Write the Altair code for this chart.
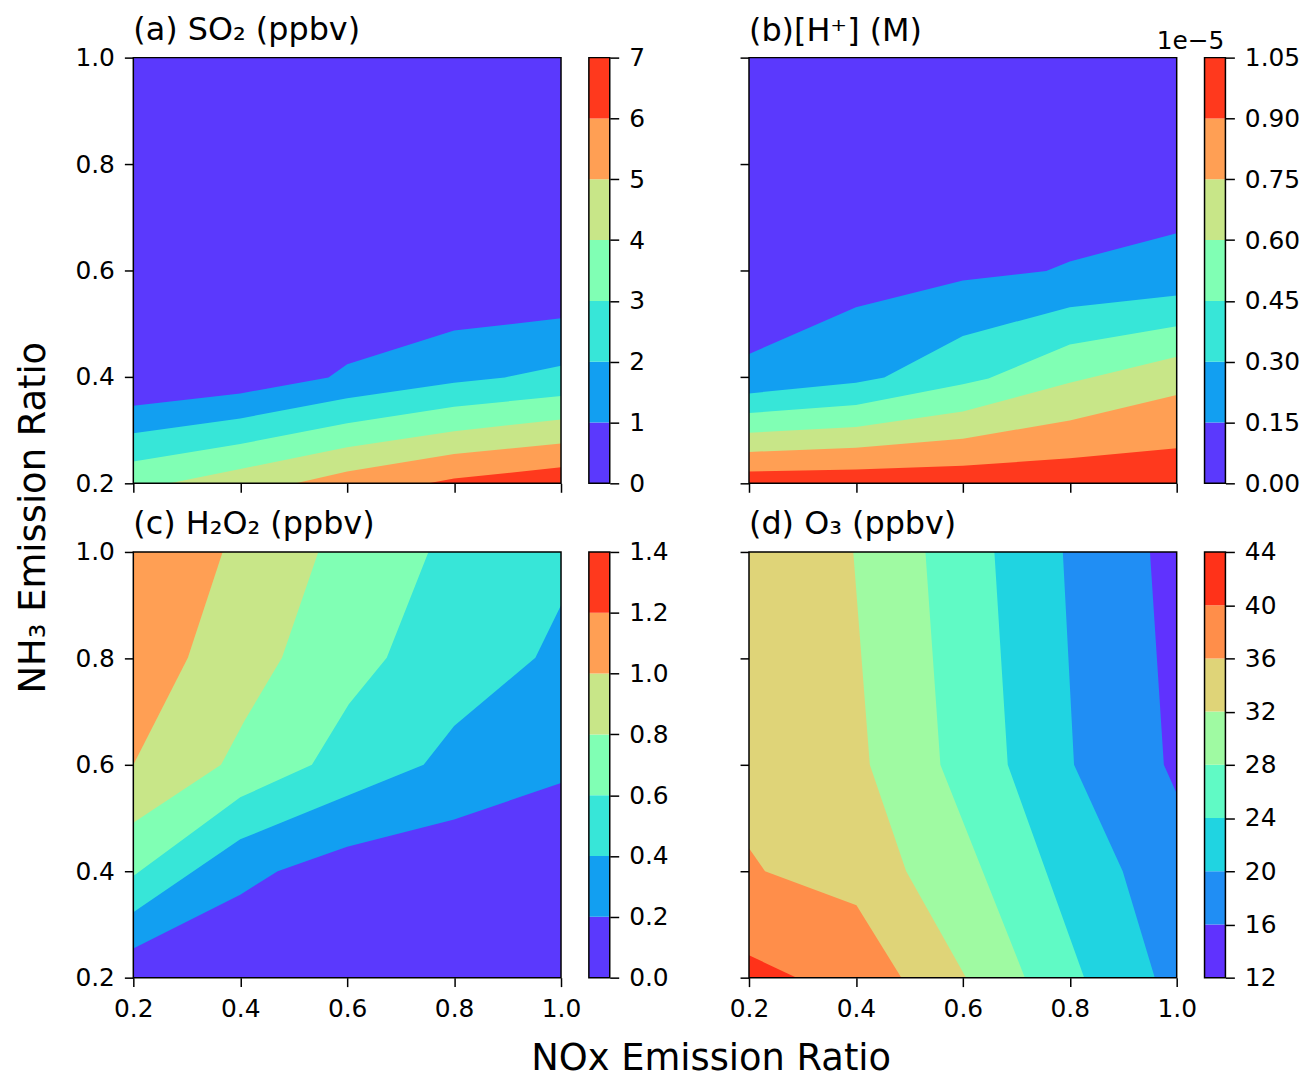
import math
import pandas as pd
import altair as alt

FONT = "DejaVu Sans"

# ---------------- data ----------------
TICKS = [0.2, 0.4, 0.6, 0.8, 1.0]

# (a) SO2 (ppbv): contour levels and boundary lines (value above level lies below the line)
A_LEVELS = [0, 1, 2, 3, 4, 5, 6, 7]
A_L1 = [(0.2, 0.346), (0.4, 0.369), (0.565, 0.399), (0.6, 0.424), (0.8, 0.487), (1.0, 0.510)]
A_L2 = [(0.2, 0.294), (0.4, 0.322), (0.6, 0.360), (0.8, 0.389), (0.895, 0.399), (1.0, 0.421)]
A_L3 = [(0.2, 0.241), (0.4, 0.274), (0.6, 0.313), (0.8, 0.344), (1.0, 0.364)]
A_L4 = [(0.268, 0.2), (0.4, 0.227), (0.6, 0.268), (0.8, 0.298), (1.0, 0.320)]
A_L5 = [(0.504, 0.2), (0.6, 0.222), (0.8, 0.255), (1.0, 0.275)]
A_L6 = [(0.752, 0.2), (0.8, 0.209), (1.0, 0.230)]

# (b) [H+] (M, x1e-5): value above level lies below the line
B_LEVELS = [0.00, 0.15, 0.30, 0.45, 0.60, 0.75, 0.90, 1.05]
B_L1 = [(0.2, 0.443), (0.4, 0.531), (0.6, 0.581), (0.756, 0.599), (0.8, 0.617), (1.0, 0.670)]
B_L2 = [(0.2, 0.369), (0.4, 0.389), (0.453, 0.399), (0.6, 0.477), (0.8, 0.531), (1.0, 0.553)]
B_L3 = [(0.2, 0.332), (0.4, 0.347), (0.6, 0.386), (0.648, 0.397), (0.8, 0.461), (1.0, 0.495)]
B_L4 = [(0.2, 0.295), (0.4, 0.306), (0.6, 0.335), (0.8, 0.389), (1.0, 0.438)]
B_L5 = [(0.2, 0.259), (0.4, 0.267), (0.6, 0.284), (0.8, 0.318), (1.0, 0.366)]
B_L6 = [(0.2, 0.222), (0.4, 0.226), (0.6, 0.233), (0.8, 0.247), (1.0, 0.266)]
B_OFFSET_TEXT = "1e−5"

# (c) H2O2 (ppbv): value above level lies above the line
C_LEVELS = [0.0, 0.2, 0.4, 0.6, 0.8, 1.0, 1.2, 1.4]
C_L1 = [(0.2, 0.255), (0.4, 0.356), (0.470, 0.400), (0.6, 0.446), (0.8, 0.497), (1.0, 0.566)]
C_L2 = [(0.2, 0.323), (0.4, 0.460), (0.6, 0.542), (0.743, 0.600), (0.8, 0.673), (0.952, 0.801), (1.0, 0.900)]
C_L3 = [(0.2, 0.391), (0.4, 0.539), (0.534, 0.600), (0.603, 0.714), (0.674, 0.801), (0.752, 1.0)]
C_L4 = [(0.2, 0.491), (0.364, 0.600), (0.408, 0.683), (0.478, 0.801), (0.546, 1.0)]
C_L5 = [(0.2, 0.600), (0.302, 0.801), (0.367, 1.0)]

# (d) O3 (ppbv): value above level lies left of the line
D_LEVELS = [12, 16, 20, 24, 28, 32, 36, 40, 44]
D_L1 = [(0.950, 1.0), (0.976, 0.6), (1.0, 0.546), (1.0, 0.2)]
D_L2 = [(0.787, 1.0), (0.808, 0.6), (0.899, 0.4), (0.959, 0.2)]
D_L3 = [(0.659, 1.0), (0.684, 0.6), (0.827, 0.2)]
D_L4 = [(0.530, 1.0), (0.558, 0.6), (0.716, 0.2)]
D_L5 = [(0.395, 1.0), (0.426, 0.6), (0.494, 0.4), (0.606, 0.2)]
D_L6 = [(0.2, 0.443), (0.230, 0.4), (0.401, 0.336), (0.485, 0.2)]
D_L7 = [(0.2, 0.242), (0.289, 0.2)]

# ---------------- styling ----------------
W, H = 430, 428
CB_X0, CB_X1 = W + 28, W + 49


def rainbow_hex(t):
    r = min(1.0, abs(2 * t - 0.5))
    g = min(1.0, max(0.0, math.sin(math.pi * t)))
    b = min(1.0, max(0.0, math.cos(math.pi * t / 2)))
    return "#%02x%02x%02x" % tuple(int(round(v * 255)) for v in (r, g, b))


def band_colors(n):
    return [rainbow_hex((i + 0.5) / n) for i in range(n)]


def make_panel(title, levels, bounds, kind, xlab, ylab, cb_fmt, offset_text=None, title_offset=-1):
    colors = band_colors(len(levels) - 1)
    xs = alt.Scale(domain=[0.2, 1.0], nice=False, zero=False)
    ys = alt.Scale(domain=[0.2, 1.0], nice=False, zero=False)
    box = pd.DataFrame({"x": [0.2], "xe": [1.0], "y": [0.2], "ye": [1.0]})
    base = alt.Chart(box).mark_rect(color=colors[0]).encode(
        x=alt.X("x:Q", scale=xs, axis=alt.Axis(values=TICKS, format=".1f", labels=xlab, title=None,
                                               orient="bottom")),
        x2="xe:Q",
        y=alt.Y("y:Q", scale=ys, axis=alt.Axis(values=TICKS, format=".1f", labels=ylab, title=None,
                                               orient="left")),
        y2="ye:Q",
    )
    layers = [base]
    for k, pts in enumerate(bounds, start=1):
        df = pd.DataFrame(pts, columns=["x", "y"])
        if kind == "left":
            m = alt.Chart(df).mark_area(color=colors[k], orient="horizontal").encode(
                y=alt.Y("y:Q", scale=ys, axis=None),
                x=alt.X("x:Q", scale=xs, axis=None, stack=None),
                x2=alt.datum(0.2),
            )
        else:
            m = alt.Chart(df).mark_area(color=colors[k], orient="vertical").encode(
                x=alt.X("x:Q", scale=xs, axis=None),
                y=alt.Y("y:Q", scale=ys, axis=None, stack=None),
                y2=alt.datum(0.2 if kind == "below" else 1.0),
            )
        layers.append(m)
    frame = alt.Chart(box).mark_rect(filled=False, stroke="black", strokeWidth=1.5).encode(
        x=alt.X("x:Q", scale=xs, axis=None), x2="xe:Q",
        y=alt.Y("y:Q", scale=ys, axis=None), y2="ye:Q",
    )
    layers.append(frame)

    cs = alt.Scale(domain=[levels[0], levels[-1]], nice=False, zero=False)
    cb_df = pd.DataFrame({"lo": levels[:-1], "hi": levels[1:], "c": colors})
    cbar = alt.Chart(cb_df).mark_rect().encode(
        x=alt.value(CB_X0), x2=alt.value(CB_X1),
        y=alt.Y("lo:Q", scale=cs, axis=alt.Axis(orient="right", offset=CB_X1 - W, values=levels,
                                                format=cb_fmt, title=None)),
        y2="hi:Q",
        color=alt.Color("c:N", scale=None),
    )
    outline = alt.Chart(pd.DataFrame({"lo": [levels[0]], "hi": [levels[-1]]})).mark_rect(
        filled=False, stroke="black", strokeWidth=1.5
    ).encode(
        x=alt.value(CB_X0), x2=alt.value(CB_X1),
        y=alt.Y("lo:Q", scale=cs, axis=None), y2="hi:Q",
    )
    layers += [cbar, outline]
    if offset_text:
        txt = alt.Chart(pd.DataFrame({"t": [offset_text], "v": [levels[-1]]})).mark_text(
            align="right", baseline="alphabetic", font=FONT, fontSize=25, color="black", dy=-9
        ).encode(
            x=alt.value(CB_X1 - 1),
            y=alt.Y("v:Q", scale=cs, axis=None),
            text="t:N",
        )
        layers.append(txt)
    return alt.layer(*layers).resolve_scale(y="independent").resolve_axis(
        x="independent", y="independent"
    ).properties(
        width=W, height=H,
        title=alt.Title(title, anchor="start", font=FONT, fontSize=32, fontWeight="normal",
                        color="black", offset=title_offset, frame="group"),
    )


pa = make_panel("(a) SO₂ (ppbv)", A_LEVELS, [A_L1, A_L2, A_L3, A_L4, A_L5, A_L6], "below",
                False, True, "d")
pb = make_panel("(b)[H⁺] (M)", B_LEVELS, [B_L1, B_L2, B_L3, B_L4, B_L5, B_L6], "below",
                False, False, ".2f", offset_text=B_OFFSET_TEXT, title_offset=-19)
pc = make_panel("(c) H₂O₂ (ppbv)", C_LEVELS, [C_L1, C_L2, C_L3, C_L4, C_L5], "above",
                True, True, ".1f")
pd_ = make_panel("(d) O₃ (ppbv)", D_LEVELS, [D_L1, D_L2, D_L3, D_L4, D_L5, D_L6, D_L7], "left",
                 True, False, "d")

grid = alt.concat(pa, pb, pc, pd_, columns=2, spacing={"row": 69, "column": 189}, bounds="flush").properties(
    title=alt.Title("NH₃ Emission Ratio", orient="left", anchor="middle", font=FONT, fontSize=37,
                    fontWeight="normal", color="black", offset=22)
)

chart = alt.vconcat(grid).properties(
    title=alt.Title("NOx Emission Ratio", orient="bottom", anchor="middle", font=FONT, fontSize=37,
                    fontWeight="normal", color="black", offset=20, dx=54),
    background="white",
    padding={"left": 7, "top": 3, "right": 5, "bottom": 0},
).configure_view(
    stroke=None
).configure_axis(
    domain=False, grid=False, tickColor="black", tickWidth=1.5, tickSize=9, zindex=2,
    labelFont=FONT, labelFontSize=25, labelColor="black", labelPadding=10, labelFlush=False,
)

chart.save("out.html", embed_options={"renderer": "svg", "actions": False})
